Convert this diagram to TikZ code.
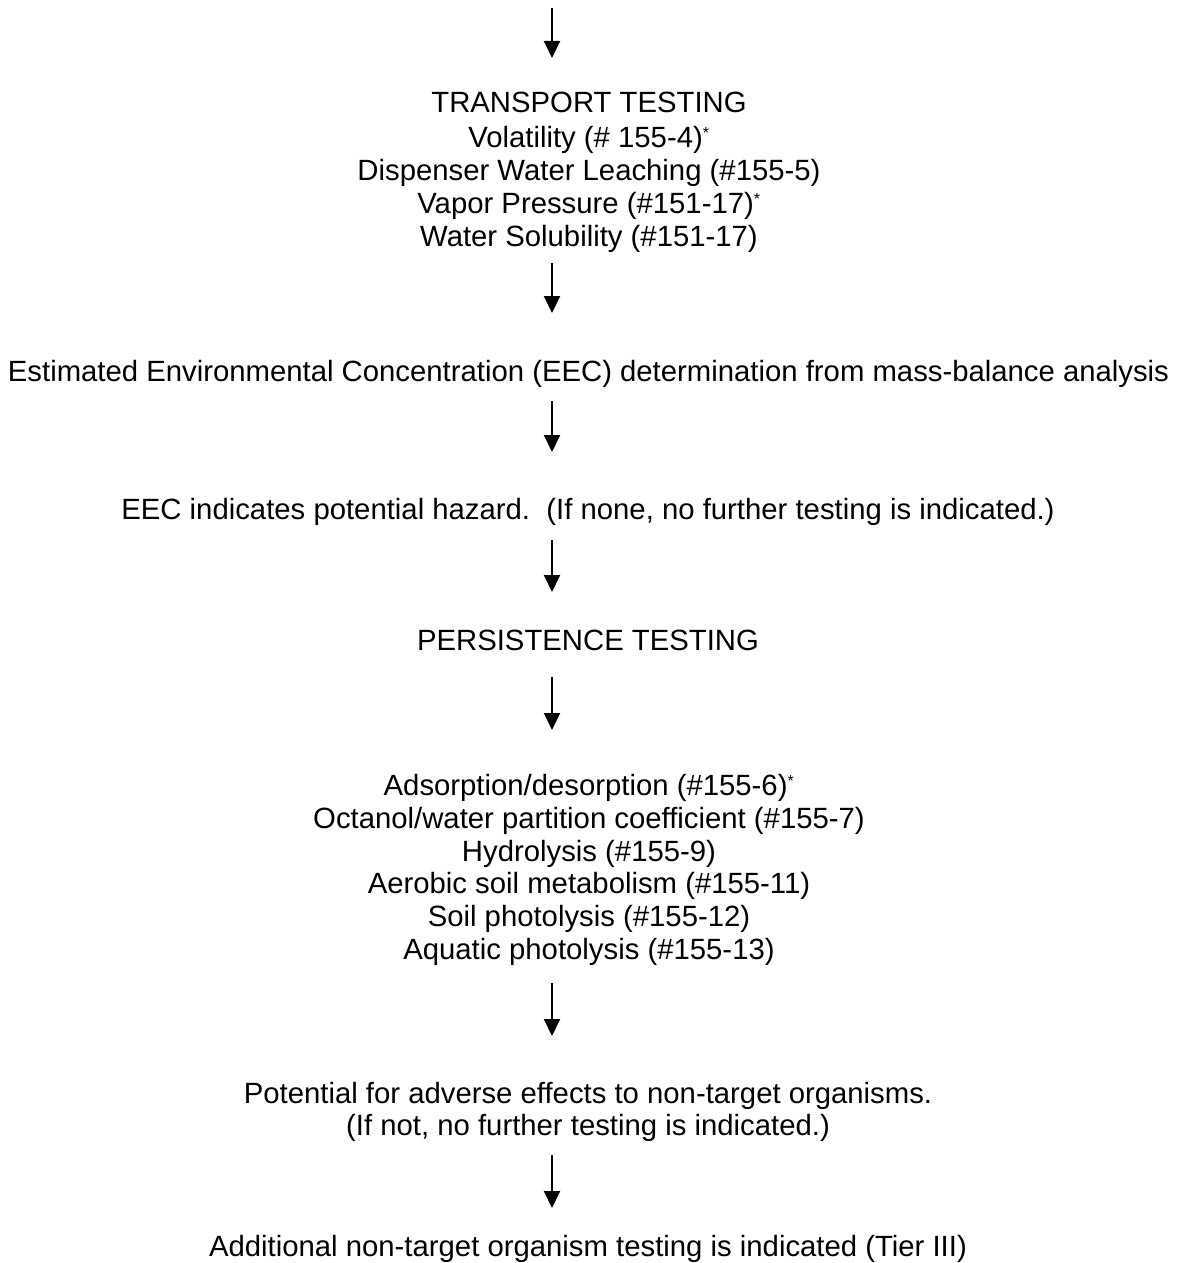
\documentclass[tikz,border=0pt]{standalone}
\usepackage{fontspec}
\setmainfont{Liberation Sans}
\usetikzlibrary{arrows.meta}
\tikzset{
  txt/.style={align=center, inner sep=0pt, font=\fontsize{29.3}{32.8}\selectfont},
  flow/.style={line width=2pt, -{Triangle[width=16pt,length=17pt]}}
}
\newcommand{\starmark}{\textsuperscript{\fontsize{16}{16}\selectfont *}}
\begin{document}
\begin{tikzpicture}[x=1pt,y=-1pt]
\useasboundingbox (0,0) rectangle (1177,1263);
% arrow coordinates
\coordinate (a1s) at (552,8);   \coordinate (a1e) at (552,58);
\coordinate (a2s) at (552,263); \coordinate (a2e) at (552,313);
\coordinate (a3s) at (552,401); \coordinate (a3e) at (552,452);
\coordinate (a4s) at (552,540); \coordinate (a4e) at (552,592);
\coordinate (a5s) at (552,677); \coordinate (a5e) at (552,730);
\coordinate (a6s) at (552,983); \coordinate (a6e) at (552,1036);
\coordinate (a7s) at (552,1155);\coordinate (a7e) at (552,1208);

\node[txt] (transport) at (589,172) {TRANSPORT TESTING\\[3pt]
Volatility (\# 155-4)\starmark\\
Dispenser Water Leaching (\#155-5)\\
Vapor Pressure (\#151-17)\starmark\\
Water Solubility (\#151-17)};

\node[txt] (eec) at (588.5,374) {Estimated Environmental Concentration (EEC) determination from mass-balance analysis};

\node[txt] (hazard) at (588,512) {EEC indicates potential hazard.\ \ (If none, no further testing is indicated.)};

\node[txt] (persist) at (588,640) {PERSISTENCE TESTING};

\node[txt] (tests) at (589,870) {Adsorption/desorption (\#155-6)\starmark\\
Octanol/water partition coefficient (\#155-7)\\
Hydrolysis (\#155-9)\\
Aerobic soil metabolism (\#155-11)\\
Soil photolysis (\#155-12)\\
Aquatic photolysis (\#155-13)};

\node[txt] (potential) at (588,1112) {Potential for adverse effects to non-target organisms.\\
(If not, no further testing is indicated.)};

\node[txt] (additional) at (588,1249) {Additional non-target organism testing is indicated (Tier III)};

\draw[flow] (a1s) -- (a1e);
\draw[flow] (a2s) -- (a2e);
\draw[flow] (a3s) -- (a3e);
\draw[flow] (a4s) -- (a4e);
\draw[flow] (a5s) -- (a5e);
\draw[flow] (a6s) -- (a6e);
\draw[flow] (a7s) -- (a7e);
\end{tikzpicture}
\end{document}
